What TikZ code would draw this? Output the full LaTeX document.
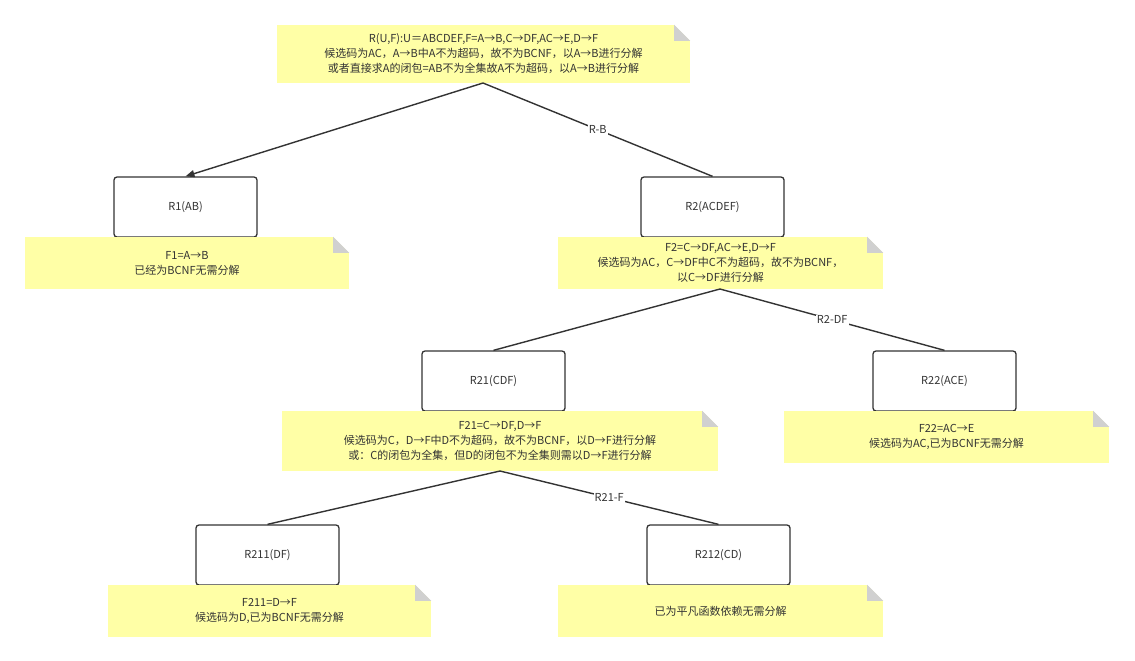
\documentclass[tikz,border=0pt]{standalone}
\usepackage{fontspec}
\setmainfont{Noto Sans CJK SC}
\usetikzlibrary{arrows.meta}
\definecolor{noteY}{HTML}{FFFFA6}
\definecolor{fold}{HTML}{D0D0D0}
\definecolor{ln}{HTML}{333333}
\tikzset{
  notebox/.style={fill=noteY,inner sep=0pt,align=center,text=ln,font=\fontsize{11pt}{15pt}\selectfont},
  rbox/.style={draw=ln,line width=1.3pt,rounded corners=3pt,fill=white,minimum width=143pt,minimum height=60pt,text=ln,font=\fontsize{11pt}{14pt}\selectfont},
  edge/.style={draw=ln,line width=1.4pt},
  elabel/.style={fill=white,inner sep=1pt,text=ln,font=\fontsize{11pt}{14pt}\selectfont}
}
\newcommand{\mynote}[6]{%
  \node[notebox,minimum width={#4-#2},minimum height={#5-#3}] (#1) at ({(#2+#4)/2},{(#3+#5)/2}) {#6};
  \fill[white] ([xshift=-16pt]#1.north east) -- (#1.north east) -- ([yshift=-16pt]#1.north east) -- cycle;
  \fill[fold] ([xshift=-16pt]#1.north east) -- ([yshift=-16pt]#1.north east) -- ([xshift=-16pt,yshift=-16pt]#1.north east) -- cycle;
}
\begin{document}
\begin{tikzpicture}[x=1pt,y=-1pt]
\useasboundingbox[fill=white] (0,0) rectangle (1135,661);
\mynote{top}{277}{25}{690}{83}{R(U,F):U＝{ABCDEF},F={A→B,C→DF,AC→E,D→F}\\候选码为AC，A→B中A不为超码，故不为BCNF，以A→B进行分解\\或者直接求A的闭包={AB}不为全集故A不为超码，以A→B进行分解}
\node[rbox] (r1) at (185.5,207) {R1(AB)};
\node[rbox] (r2) at (712.5,207) {R2(ACDEF)};
\mynote{f1}{25}{237}{349}{289}{F1={A→B}\\已经为BCNF无需分解}
\mynote{f2}{558}{237}{883}{289}{F2={C→DF,AC→E,D→F}\\候选码为AC，C→DF中C不为超码，故不为BCNF，\\以C→DF进行分解}
\node[rbox] (r21) at (493.5,381) {R21(CDF)};
\node[rbox] (r22) at (944.5,381) {R22(ACE)};
\mynote{f21}{282}{411}{718}{471}{F21={C→DF,D→F}\\候选码为C，D→F中D不为超码，故不为BCNF，以D→F进行分解\\或：C的闭包为全集，但D的闭包不为全集则需以D→F进行分解}
\mynote{f22}{784}{411}{1109}{463}{F22={AC→E}\\候选码为AC,已为BCNF无需分解}
\node[rbox] (r211) at (267.5,555) {R211(DF)};
\node[rbox] (r212) at (718.5,555) {R212(CD)};
\mynote{f211}{108}{585}{431}{637}{F211={D→F}\\候选码为D,已为BCNF无需分解}
\mynote{f212}{558}{585}{883}{637}{已为平凡函数依赖无需分解}
\coordinate (t0) at (483,83);
\coordinate (t1) at (720,289);
\coordinate (t2) at (500,471);
\draw[edge,-{Triangle[length=9pt,width=7pt]}] (t0) -- (r1.north);
\draw[edge] (t0) -- node[elabel,pos=0.5]{R-B} (r2.north);
\draw[edge] (t1) -- (r21.north);
\draw[edge] (t1) -- node[elabel,pos=0.5]{R2-DF} (r22.north);
\draw[edge] (t2) -- (r211.north);
\draw[edge] (t2) -- node[elabel,pos=0.5]{R21-F} (r212.north);
\end{tikzpicture}
\end{document}
